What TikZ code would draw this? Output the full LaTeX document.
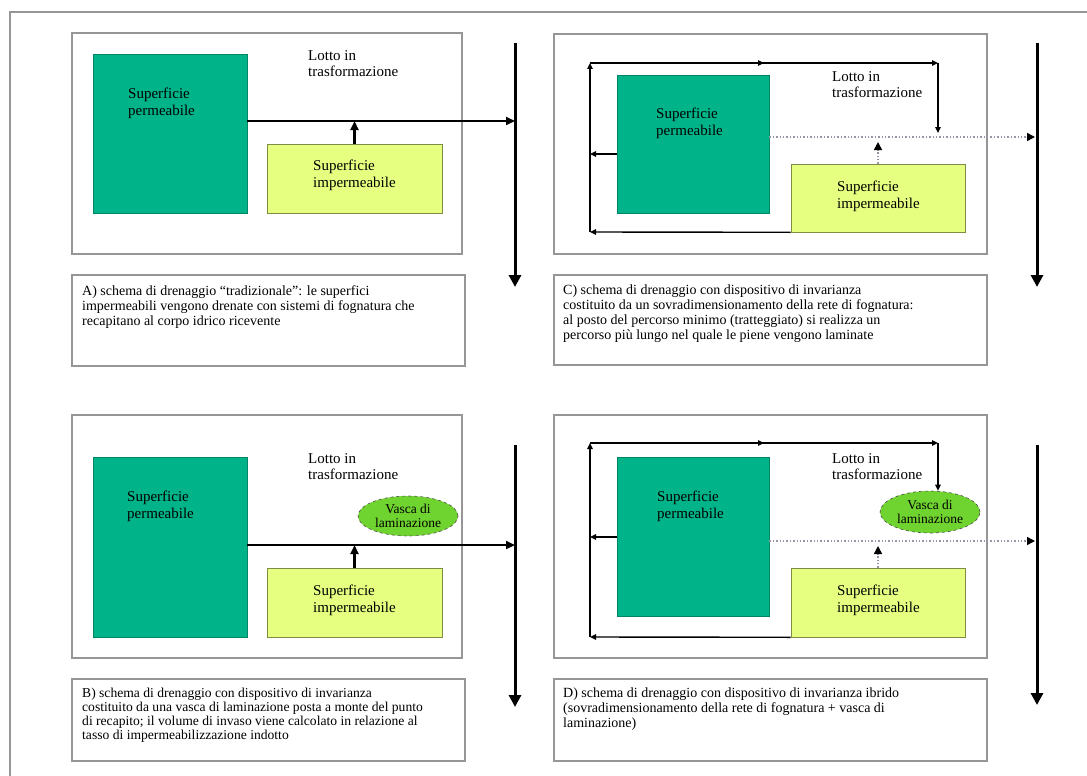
\documentclass[tikz,border=0pt]{standalone}
\usepackage{fontspec}
\setmainfont{Liberation Serif}
\usetikzlibrary{arrows.meta,shapes.geometric,decorations.markings}
\definecolor{permgreen}{RGB}{0,179,137}
\definecolor{impyellow}{RGB}{230,255,128}
\definecolor{vascagreen}{RGB}{112,212,48}
\definecolor{framegray}{RGB}{150,150,150}
\definecolor{dotgray}{RGB}{150,150,168}
\tikzset{
  lotto/.style={draw=framegray,line width=1.2pt,inner sep=0pt},
  capbox/.style={draw=framegray,line width=1.2pt,inner sep=0pt},
  perm/.style={fill=permgreen,draw=permgreen!75!black,line width=.6pt,inner sep=0pt},
  imperm/.style={fill=impyellow,draw=impyellow!55!black,line width=.6pt,inner sep=0pt},
  vasca/.style={ellipse,fill=vascagreen,draw=black!70,dashed,line width=.6pt,inner sep=0pt,
    minimum width=100pt,minimum height=40pt,align=center,font=\fontsize{13.5}{14.5}\selectfont},
  lab/.style={anchor=north west,inner sep=0pt,align=left,font=\fontsize{15}{16.5}\selectfont},
  captext/.style={anchor=north west,inner sep=0pt,align=left,font=\fontsize{14}{15}\selectfont},
  flow/.style={line width=2.2pt,-{Triangle[length=9pt,width=8pt]}},
  pipe/.style={line width=1.4pt,-{Triangle[length=6pt,width=5.5pt]}},
  midtip/.style={postaction={decorate},decoration={markings,
    mark=at position .5 with {\arrow{Triangle[length=6pt,width=5.5pt]}}}},
  river/.style={line width=3pt,-{Triangle[length=12pt,width=12pt]}},
  minpath/.style={dotgray,dotted,line width=1.4pt,-{Triangle[color=black,length=8pt,width=8pt]}}
}
\begin{document}
\begin{tikzpicture}[x=1pt,y=-1pt]
\useasboundingbox (0,0) rectangle (1087,776);
\draw[framegray,line width=1.2pt] (10,776) -- (10,12) -- (1087,12);

\node[lotto,minimum width=390pt,minimum height=221pt] (lottoA) at (267,143.5) {};
\node[perm,minimum width=154pt,minimum height=159pt] (permA) at (170,133.5) {};
\node[imperm,minimum width=175pt,minimum height=69pt] (impA) at (354.5,178.5) {};
\node[lab] (lotA) at (308,50) {Lotto in\\trasformazione};
\node[lab] (lpermA) at (128,88) {Superficie\\permeabile};
\node[lab] (limpA) at (313,160) {Superficie\\impermeabile};
\coordinate (inA) at (515,121);
\coordinate (topA) at (515,43);
\coordinate (botA) at (515,287);
\draw[flow] (permA.east |- inA) -- (inA);
\draw[flow] (impA.north) -- (impA.north |- inA);
\draw[river] (topA) -- (botA);
\node[capbox,minimum width=393pt,minimum height=91pt] (capA) at (268.5,320.5) {};
\node[captext] (tcapA) at (82,285) {A) schema di drenaggio “tradizionale”: le superfici\\
  impermeabili vengono drenate con sistemi di fognatura che\\
  recapitano al corpo idrico ricevente};

\node[lotto,minimum width=433pt,minimum height=220pt] (lottoC) at (770.5,144) {};
\node[perm,minimum width=152pt,minimum height=138pt] (permC) at (693,144) {};
\node[imperm,minimum width=174pt,minimum height=68pt] (impC) at (878,198) {};
\node[lab] (lotC) at (832,71) {Lotto in\\trasformazione};
\node[lab] (lpermC) at (656,108) {Superficie\\permeabile};
\node[lab] (limpC) at (837,181) {Superficie\\impermeabile};
\coordinate (cBL) at (590,232);
\coordinate (cTL) at (590,63);
\coordinate (cTR) at (938,63);
\coordinate (cEnd) at (938,133);
\coordinate (cL) at (590,154);
\coordinate (dC) at (1035,137);
\coordinate (upC) at (878,142);
\coordinate (topC) at (1037,43);
\coordinate (botC) at (1037,287);
\draw[pipe] (impC.south west) -- (cBL);
\draw[pipe] (cBL) -- (cTL);
\draw[pipe,midtip] (cTL) -- (cTR);
\draw[pipe] (cTR) -- (cEnd);
\draw[pipe] (permC.west |- cL) -- (cL);
\draw[minpath] (permC.east |- dC) -- (dC);
\draw[minpath] (impC.north) -- (upC);
\draw[river] (topC) -- (botC);
\node[capbox,minimum width=433pt,minimum height=90pt] (capC) at (770.5,320) {};
\node[captext] (tcapC) at (563,285) {C) schema di drenaggio con dispositivo di invarianza\\
  costituito da un sovradimensionamento della rete di fognatura:\\
  al posto del percorso minimo (tratteggiato) si realizza un\\
  percorso più lungo nel quale le piene vengono laminate};

\node[lotto,minimum width=390pt,minimum height=243pt] (lottoB) at (267,536.5) {};
\node[perm,minimum width=154pt,minimum height=180pt] (permB) at (170,547) {};
\node[imperm,minimum width=175pt,minimum height=69pt] (impB) at (354.5,602.5) {};
\node[vasca] (vascaB) at (408,516) {Vasca di\\laminazione};
\node[lab] (lotB) at (308,453) {Lotto in\\trasformazione};
\node[lab] (lpermB) at (127,491) {Superficie\\permeabile};
\node[lab] (limpB) at (313,585) {Superficie\\impermeabile};
\coordinate (inB) at (515,545);
\coordinate (topB) at (515,445);
\coordinate (botB) at (515,707);
\draw[flow] (permB.east |- inB) -- (inB);
\draw[flow] (impB.north) -- (impB.north |- inB);
\draw[river] (topB) -- (botB);
\node[capbox,minimum width=393pt,minimum height=82pt] (capB) at (268.5,720) {};
\node[captext,font=\fontsize{13.6}{14}\selectfont] (tcapB) at (82,687.5) {B) schema di drenaggio con dispositivo di invarianza\\
  costituito da una vasca di laminazione posta a monte del punto\\
  di recapito; il volume di invaso viene calcolato in relazione al\\
  tasso di impermeabilizzazione indotto};

\node[lotto,minimum width=433pt,minimum height=243pt] (lottoD) at (770.5,536.5) {};
\node[perm,minimum width=152pt,minimum height=159pt] (permD) at (693,536.5) {};
\node[imperm,minimum width=174pt,minimum height=69pt] (impD) at (878,602.5) {};
\node[vasca,minimum height=42pt] (vascaD) at (930,512) {Vasca di\\laminazione};
\node[lab] (lotD) at (832,453) {Lotto in\\trasformazione};
\node[lab] (lpermD) at (657,491) {Superficie\\permeabile};
\node[lab] (limpD) at (837,585) {Superficie\\impermeabile};
\coordinate (dBL) at (590,637);
\coordinate (dTL) at (590,443);
\coordinate (dTR) at (938,443);
\coordinate (dL) at (590,537);
\coordinate (dD) at (1035,541);
\coordinate (upD) at (878,546);
\coordinate (topD) at (1037,445);
\coordinate (botD) at (1037,705);
\draw[pipe] (impD.south west) -- (dBL);
\draw[pipe] (dBL) -- (dTL);
\draw[pipe,midtip] (dTL) -- (dTR);
\draw[pipe] (dTR) -- (dTR |- vascaD.north);
\draw[pipe] (permD.west |- dL) -- (dL);
\draw[minpath] (permD.east |- dD) -- (dD);
\draw[minpath] (impD.north) -- (upD);
\draw[river] (topD) -- (botD);
\node[capbox,minimum width=433pt,minimum height=82pt] (capD) at (770.5,720) {};
\node[captext] (tcapD) at (563,687.5) {D) schema di drenaggio con dispositivo di invarianza ibrido\\
  (sovradimensionamento della rete di fognatura + vasca di\\
  laminazione)};
\end{tikzpicture}
\end{document}
